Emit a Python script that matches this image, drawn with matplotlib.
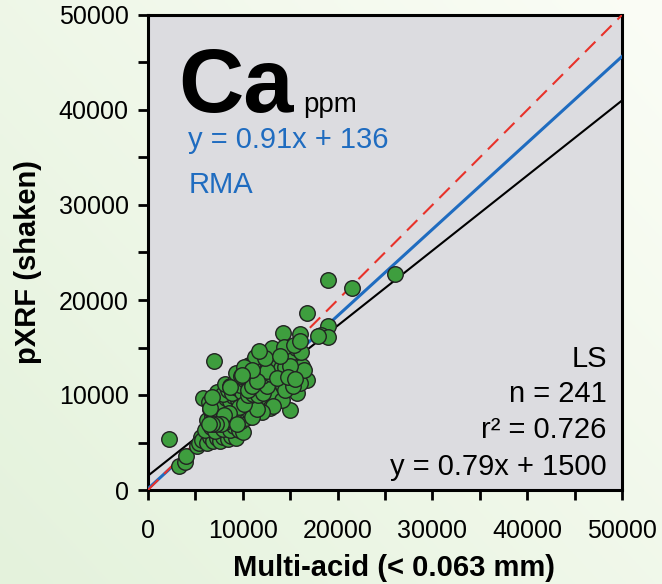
import numpy as np
import matplotlib
matplotlib.use("Agg")
import matplotlib.pyplot as plt

plt.rcParams['font.family'] = ['Liberation Sans', 'DejaVu Sans']

# Multi-acid (x) vs pXRF shaken (y), Ca in ppm
ca_multi = [
    2200, 3300, 3900, 4000, 5200, 5600, 5400, 6200, 5800, 7000,
    16800, 19000, 21500, 26100, 19000, 18200, 19000, 14200, 16000, 17900,
    5700, 6200, 6500, 6900, 7300, 7600, 7900, 8400, 8800, 9300,
    6000, 6600, 7100, 7500, 7900, 8300, 8700, 9100, 9600, 10000,
    6200, 6700, 7200, 7600, 8100, 8500, 8900, 9300, 9800, 10300,
    6500, 7000, 7400, 7900, 8300, 8800, 9200, 9700, 10200, 10700,
    6400, 7100, 7700, 8200, 8600, 9000, 9500, 10000, 10400, 10900, 11400, 11900, 12400, 12900,
    7300, 7900, 8400, 8900, 9400, 9900, 10400, 10900, 11400, 11900, 12400, 12900, 13400,
    8100, 8700, 9200, 9700, 10200, 10700, 11200, 11700, 12200, 12700, 13200, 13700, 14200,
    9300, 9800, 10300, 10800, 11300, 11800, 12300, 12800, 13300, 13800, 14300, 14800, 15300, 15800,
    10700, 11200, 11700, 12200, 12700, 13200, 13700, 14200, 14700, 15200, 15700, 16200,
    11300, 12600, 13600, 14100, 14600, 15100, 15600, 16100, 13100, 14300, 15400, 16000,
    15000, 14100, 15700, 16800, 16000, 14500, 15300, 13200, 12000, 11000, 11500, 16500,
    9000, 9600, 10100, 10600, 11100, 11600, 12100, 12600, 8500, 8000, 7700, 7200, 6800, 6400,
    9400, 10500, 11000, 12000, 13000, 13500, 14000, 14500, 15000, 12500, 11500, 6500, 6800,
    10100, 11000, 12300, 13600, 14800, 8700, 9900, 11700, 13900, 15500,
]
ca_pxrf = [
    5400, 2500, 3000, 3600, 4600, 5600, 4900, 5500, 9700, 13600,
    18600, 22100, 21300, 22700, 17300, 16300, 16100, 16500, 16400, 16200,
    5300, 5000, 5600, 5200, 5500, 5200, 5600, 5400, 5700, 5500,
    6300, 6600, 6200, 6800, 6400, 6900, 6300, 6700, 6300, 6100,
    7400, 7800, 7300, 7600, 7200, 7700, 7400, 7900, 7300, 7600,
    8500, 8200, 8700, 8300, 8900, 8500, 8900, 8400, 8800, 8300,
    9300, 9500, 9200, 9700, 9400, 9900, 9500, 9800, 9300, 9700, 9200, 9600, 9100, 8600,
    10300, 10100, 10500, 10200, 10700, 10300, 10800, 10400, 10900, 10500, 10900, 10400, 10000,
    11200, 11000, 11400, 11100, 11600, 11300, 11700, 11300, 11800, 11400, 11900, 11500, 11000,
    12300, 12000, 12500, 12200, 12700, 12300, 12800, 12400, 12900, 12500, 12100, 12600, 12200, 12000,
    13200, 13600, 13100, 13500, 13200, 13700, 13300, 13800, 13400, 13900, 13500, 13100,
    14000, 14200, 14700, 14300, 14800, 14400, 14900, 14500, 15000, 15100, 15300, 15700,
    8400, 9500, 10200, 11600, 11300, 10500, 11000, 8800, 8200, 7700, 8500, 12600,
    8000, 8700, 9100, 10000, 10100, 10000, 10200, 11000, 8100, 7900, 7000, 6900, 7000, 6900,
    7000, 10500, 11000, 12000, 12200, 12200, 12800, 13000, 13100, 12500, 11500, 8600, 9800,
    12900, 12600, 13900, 11800, 11900, 10800, 12100, 14600, 14100, 11700,
]

x_ticks = [0, 10000, 20000, 30000, 40000, 50000]
y_ticks = [0, 10000, 20000, 30000, 40000, 50000]

rma_slope, rma_icpt = 0.91, 136
ls_slope, ls_icpt = 0.79, 1500

fig = plt.figure(figsize=(6.62, 5.84), dpi=100)

# soft green background
bg = fig.add_axes([0, 0, 1, 1], zorder=-10)
gx, gy = np.meshgrid(np.linspace(0, 1, 200), np.linspace(0, 1, 200))
t = np.clip(0.55 * gx + 0.45 * (1 - gy), 0, 1)
c0 = np.array([228, 242, 220]) / 255
c1 = np.array([251, 253, 246]) / 255
img = c0[None, None, :] * (1 - t[..., None]) + c1[None, None, :] * t[..., None]
bg.imshow(img, aspect='auto', extent=[0, 1, 0, 1])
bg.axis('off')

ax = fig.add_axes([148 / 662, 1 - 490 / 584, 474 / 662, 475 / 584])
ax.set_facecolor('#dcdce0')

xx = np.array([0, 50000])
ax.plot(xx, ls_slope * xx + ls_icpt, color='black', lw=1.5, zorder=2)
ax.plot(xx, rma_slope * xx + rma_icpt, color='#1f6cc0', lw=2.2, zorder=3)
ax.plot(xx, xx, color='#e8322a', lw=1.5, dashes=(7, 4), zorder=3)

ax.scatter(ca_multi, ca_pxrf, s=125, color='#3e9e3e', edgecolor='#222222',
           linewidth=1.0, zorder=5)

ax.set_xlim(0, 50000)
ax.set_ylim(0, 50000)
ax.set_xticks(x_ticks)
ax.set_yticks(y_ticks)
ax.set_xticks(np.arange(5000, 50000, 10000), minor=True)
ax.set_yticks(np.arange(5000, 50000, 10000), minor=True)
ax.tick_params(which='both', direction='out', length=7, width=2, labelsize=18)
ax.tick_params(axis='x', pad=14)
ax.tick_params(axis='y', pad=7)
for sp in ax.spines.values():
    sp.set_linewidth(2.2)

ax.set_xlabel('Multi-acid (< 0.063 mm)', fontsize=21, fontweight='bold')
ax.set_ylabel('pXRF (shaken)', fontsize=21, fontweight='bold')
ax.xaxis.set_label_coords(0.519, -0.135)
ax.yaxis.set_label_coords(-0.224, 0.481)

ax.text(0.063, 0.796, 'Ca', transform=ax.transAxes, fontsize=65,
        fontweight='bold', ha='left', va='baseline')
ax.text(0.327, 0.796, 'ppm', transform=ax.transAxes, fontsize=20,
        ha='left', va='baseline')
ax.text(0.085, 0.72, 'y = 0.91x + 136', transform=ax.transAxes, fontsize=21,
        color='#1f6cc0', ha='left', va='baseline')
ax.text(0.085, 0.625, 'RMA', transform=ax.transAxes, fontsize=21,
        color='#1f6cc0', ha='left', va='baseline')

ls_lines = ['LS', 'n = 241', 'r\u00b2 = 0.726', 'y = 0.79x + 1500']
ls_base = [0.259, 0.185, 0.109, 0.032]
for s, yb in zip(ls_lines, ls_base):
    ax.text(0.968, yb, s, transform=ax.transAxes, fontsize=21,
            ha='right', va='baseline')

fig.savefig('out.png', dpi=100)
